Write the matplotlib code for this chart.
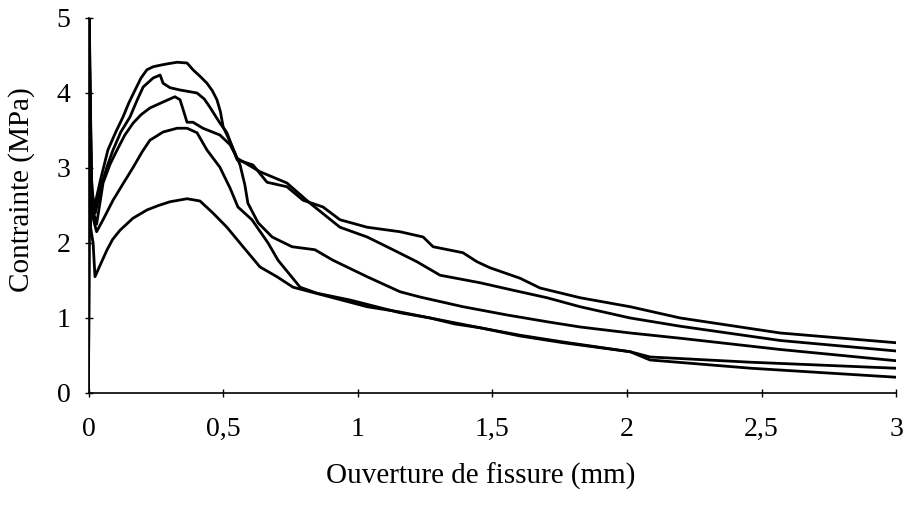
import matplotlib
matplotlib.use("Agg")
import matplotlib.pyplot as plt

plt.rcParams['font.family'] = ['Liberation Serif', 'DejaVu Serif']

# essai A (pic le plus haut)
a_x = [0, 0.003, 0.01, 0.02, 0.045, 0.072, 0.10, 0.128, 0.15, 0.173, 0.195, 0.217, 0.24,
       0.266, 0.295, 0.329, 0.366, 0.388, 0.415, 0.44, 0.46, 0.477, 0.49, 0.50, 0.526,
       0.563, 0.581, 0.592, 0.63, 0.682, 0.756, 0.841, 0.908, 1.035, 1.157, 1.231, 1.391,
       1.555, 1.703, 1.826, 2.012, 2.198, 2.569, 3.0]
a_y = [0, 5.0, 2.9, 2.45, 2.85, 3.24, 3.47, 3.68, 3.87, 4.04, 4.2, 4.31, 4.35,
       4.37, 4.39, 4.41, 4.40, 4.31, 4.22, 4.13, 4.03, 3.91, 3.75, 3.55, 3.35,
       3.04, 2.77, 2.53, 2.27, 2.08, 1.95, 1.91, 1.77, 1.55, 1.35, 1.28, 1.15,
       1.04, 0.95, 0.88, 0.80, 0.73, 0.58, 0.43]

# essai B
b_x = [0, 0.003, 0.012, 0.025, 0.05, 0.07, 0.091, 0.12, 0.154, 0.18, 0.203, 0.24, 0.266,
       0.277, 0.303, 0.34, 0.403, 0.43, 0.451, 0.488, 0.514, 0.552, 0.611, 0.663, 0.737,
       0.797, 0.871, 0.934, 1.035, 1.157, 1.243, 1.28, 1.391, 1.443, 1.491, 1.603, 1.677,
       1.826, 2.012, 2.198, 2.569, 3.0]
b_y = [0, 4.8, 2.7, 2.4, 2.8, 3.03, 3.24, 3.48, 3.68, 3.9, 4.08, 4.2, 4.24,
       4.13, 4.07, 4.04, 4.0, 3.92, 3.81, 3.6, 3.47, 3.11, 3.04, 2.81, 2.75,
       2.57, 2.48, 2.31, 2.21, 2.15, 2.08, 1.95, 1.87, 1.75, 1.67, 1.53, 1.40,
       1.27, 1.15, 1.0, 0.80, 0.67]

# essai C
c_x = [0, 0.003, 0.012, 0.03, 0.054, 0.08, 0.106, 0.135, 0.166, 0.195, 0.228, 0.277,
       0.321, 0.34, 0.366, 0.388, 0.425, 0.488, 0.526, 0.552, 0.637, 0.737, 0.823, 0.934,
       1.035, 1.131, 1.22, 1.306, 1.454, 1.577, 1.703, 1.826, 2.012, 2.198, 2.569, 3.0]
c_y = [0, 4.6, 2.5, 2.25, 2.8, 3.05, 3.24, 3.44, 3.6, 3.71, 3.8, 3.88,
       3.95, 3.91, 3.61, 3.61, 3.53, 3.44, 3.31, 3.13, 2.95, 2.8, 2.53, 2.21,
       2.08, 1.91, 1.75, 1.57, 1.47, 1.37, 1.27, 1.15, 1.0, 0.89, 0.70, 0.56]

# essai D
d_x = [0, 0.003, 0.012, 0.03, 0.054, 0.091, 0.13, 0.166, 0.2, 0.228, 0.277, 0.329,
       0.366, 0.403, 0.44, 0.488, 0.526, 0.555, 0.607, 0.667, 0.704, 0.786, 0.849, 0.971,
       1.157, 1.269, 1.454, 1.603, 1.763, 2.012, 2.086, 2.46, 3.0]
d_y = [0, 4.3, 2.4, 2.15, 2.31, 2.57, 2.8, 3.01, 3.22, 3.37, 3.48, 3.53,
       3.53, 3.47, 3.24, 3.01, 2.73, 2.48, 2.31, 2.0, 1.77, 1.41, 1.33, 1.24,
       1.07, 1.0, 0.87, 0.77, 0.68, 0.55, 0.48, 0.41, 0.33]

# essai E (pic le plus bas)
e_x = [0, 0.003, 0.008, 0.017, 0.024, 0.045, 0.069, 0.09, 0.117, 0.165, 0.217, 0.26,
       0.303, 0.366, 0.414, 0.462, 0.514, 0.574, 0.637, 0.70, 0.76, 0.908, 1.035, 1.157,
       1.269, 1.361, 1.454, 1.603, 1.763, 2.012, 2.086, 2.46, 3.0]
e_y = [0, 3.4, 2.2, 2.0, 1.55, 1.72, 1.91, 2.05, 2.17, 2.33, 2.44, 2.5,
       2.55, 2.59, 2.56, 2.4, 2.21, 1.95, 1.68, 1.55, 1.41, 1.27, 1.15, 1.08,
       1.0, 0.92, 0.87, 0.76, 0.67, 0.55, 0.44, 0.33, 0.21]

x_ticks = [0, 0.5, 1, 1.5, 2, 2.5, 3]
x_labels = ['0', '0,5', '1', '1,5', '2', '2,5', '3']
y_ticks = [0, 1, 2, 3, 4, 5]

fig = plt.figure(figsize=(9.07, 5.07), dpi=100)
ax = fig.add_axes([0.0976, 0.2249, 0.8904, 0.7396])

for xs, ys in [(a_x, a_y), (b_x, b_y), (c_x, c_y), (d_x, d_y), (e_x, e_y)]:
    ax.plot(xs, ys, color='black', lw=2.0, solid_joinstyle='round')

ax.set_xlim(0, 3)
ax.set_ylim(0, 5)
ax.set_xticks(x_ticks)
ax.set_xticklabels(x_labels)
ax.set_yticks(y_ticks)
ax.spines['top'].set_visible(False)
ax.spines['right'].set_visible(False)
ax.spines['left'].set_linewidth(1.2)
ax.spines['bottom'].set_linewidth(1.2)
ax.tick_params(axis='x', direction='inout', length=6, width=1, labelsize=20, pad=14)
ax.tick_params(axis='y', direction='inout', length=6, width=1, labelsize=20, pad=10)

fig.text(0.024, 0.625, 'Contrainte (MPa)', rotation=90, fontsize=21,
         ha='center', va='center')
fig.text(0.53, 0.06, 'Ouverture de fissure (mm)', fontsize=21,
         ha='center', va='center')

fig.savefig('out.png', dpi=100)
